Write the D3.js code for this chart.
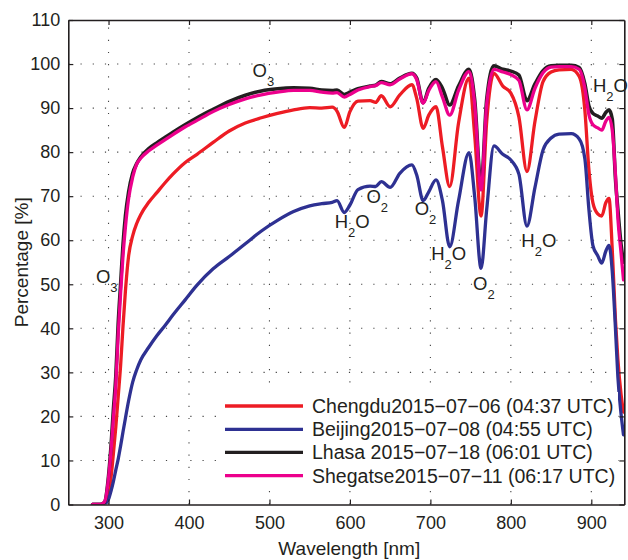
<!DOCTYPE html>
<html><head><meta charset="utf-8">
<script src="https://cdn.jsdelivr.net/npm/d3@7"></script>
<style>
body{margin:0;background:#fff;}
svg{display:block;font-family:"Liberation Sans",Arial,Helvetica,sans-serif;}
</style></head>
<body><svg id="chart" width="628" height="560"></svg>
<script>
const wavelengths = [280,290,295,300,303,306,309,312,315,318,321,325,330,335,340,350,360,370,380,395,410,430,450,470,490,510,530,550,565,578,584,593,600,610,625,632,639,650,662,677,683,691,698,707,715,724,735,748,755,763,770,779,790,800,810,820,830,840,850,860,875,885,892,897,902,908,913,918,922,926,930,933,937,940];

const chengdu = [0,0,0.3,2.5,6,11.5,17.5,24.5,31.5,40.5,
 48.5,56.5,61,63.8,65.8,68.6,70.8,73,75,77.6,
 79.5,82.2,84.8,86.6,87.8,88.8,89.6,90.1,90.0,90.2,
 89.3,85.6,89.2,91.6,91.7,91.3,92.8,90.3,93.0,95.3,
 92.2,85.4,88.4,90.3,81.2,72.2,86.6,96.8,84,65.5,
 87,97.9,95,93.4,88,75.6,87,96,98.2,98.7,
 98.8,97.2,89.5,76,68.5,66,65.5,68.5,69.5,58,
 42,33,25,21];

const beijing = [0,0,0.1,1.2,3,5.2,7.8,10.3,13.3,16.5,
 19.6,23.6,27.8,30.6,32.8,35.7,38.3,40.6,43,46.4,
 49.8,53.5,56.3,59.2,62.1,64.5,66.5,67.8,68.3,68.6,
 69,66.3,68,71.5,72.3,72.2,73.3,72.0,75.2,77.1,
 74.8,69.0,71,73.7,69,58.5,69,79.9,70,53.6,
 67,81.4,79.5,78.2,75,63.2,72,80.5,83.2,84.1,
 84.2,83,78.5,67,58.8,56.5,54.8,57.5,58.8,53,
 40,29,20.5,15.8];

const lhasa = [0,0,0.5,6.5,13,21.5,29,41,50,59,
 65.5,71,75.2,77.4,78.9,80.8,82.1,83.3,84.5,86.2,
 87.8,89.7,91.5,92.9,93.9,94.4,94.6,94.5,94.1,94.0,
 94.1,93.1,93.6,94.4,95.0,95.2,96.0,95.5,96.8,97.9,
 96.8,91.2,94.5,96.5,94.5,90.7,95,98.8,92,72.5,
 92,99.6,98.8,98.4,97.5,91.7,95.5,98.5,99.6,99.7,
 99.7,99.2,95.5,90.5,88.8,88.2,87.7,89,89.6,87.5,
 74,67,59,55];

const shegatse = [0,0,0.6,6,12,19.5,27,38.5,48,56.5,
 63,69.5,74.3,77.3,78.6,80.3,81.6,82.8,84,85.7,
 87.2,89.2,90.8,92.1,93.0,93.6,94.0,94.0,93.6,93.4,
 93.5,92.5,93.1,94.1,94.9,95.1,95.8,95.3,96.6,97.8,
 96.5,91.1,94,96.0,92.5,88.4,94,98.3,91,71.4,
 91,98.8,98.2,97.6,96.3,89.6,94.5,98,99.3,99.4,
 99.4,98.8,94.5,88.5,86.2,85.5,85,87,87.9,85,
 75,65,57,51];

const seriesNames = ["Chengdu2015\u221207\u221206 (04:37 UTC)","Beijing2015\u221207\u221208 (04:55 UTC)","Lhasa 2015\u221207\u221218 (06:01 UTC)","Shegatse2015\u221207\u221211 (06:17 UTC)"];
const seriesValues = [chengdu, beijing, lhasa, shegatse];
const seriesColors = ["#ED1C24","#2E3192","#231F20","#EC008C"];

const xTicks = [300,400,500,600,700,800,900];
const yTicks = [0,10,20,30,40,50,60,70,80,90,100,110];

// annotation labels: main text, subscript, trailing text, wavelength, value
const annMain = ["O","O","H","O","O","H","O","H","H"];
const annSub  = ["3","3","2","2","2","2","2","2","2"];
const annTail = ["","","O","","","O","","O","O"];
const annWl   = [479,284.3,581,620.5,680.5,701,753,813,902];
const annVal  = [97.1,50.4,62.7,68.4,65.7,55.5,48.7,58.5,93.7];

const svg = d3.select("#chart");
const L = 68.3, R = 624.3, T = 20, B = 504.5;
const x = d3.scaleLinear().domain([250, 941]).range([L, R]);
const y = d3.scaleLinear().domain([0, 110]).range([B, T]);
const ink = "#231F20";

// grid
const grid = svg.append("g").attr("stroke", "#444").attr("stroke-width", 1.1).attr("stroke-dasharray", "1.2,11");
xTicks.forEach(t => grid.append("line").attr("x1", x(t)).attr("x2", x(t)).attr("y1", B).attr("y2", T));
yTicks.filter(t => t > 0 && t < 110).forEach(t => grid.append("line").attr("x1", L).attr("x2", R).attr("y1", y(t)).attr("y2", y(t)));

// lines
svg.append("clipPath").attr("id", "clip").append("rect").attr("x", L).attr("y", T).attr("width", R - L).attr("height", B - T);
const line = d3.line().x((d, i) => x(wavelengths[i])).y(d => y(d)).curve(d3.curveMonotoneX);
const lines = svg.append("g").attr("clip-path", "url(#clip)");
seriesValues.forEach((vals, i) => {
  lines.append("path").datum(vals).attr("d", line).attr("fill", "none")
    .attr("stroke", seriesColors[i]).attr("stroke-width", i === 2 ? 3.6 : 3.3).attr("stroke-linejoin", "round").attr("stroke-linecap", "round");
});

// annotations
const ann = svg.append("g").attr("fill", ink).attr("font-size", 18.5);
annMain.forEach((m, i) => {
  const t = ann.append("text").attr("x", x(annWl[i])).attr("y", y(annVal[i]));
  t.append("tspan").text(m);
  t.append("tspan").attr("font-size", 13).attr("dy", 9).text(annSub[i]);
  if (annTail[i]) t.append("tspan").attr("dy", -9).text(annTail[i]);
});

// axes
const axFont = 18;
const gx = svg.append("g").attr("transform", `translate(0,${B})`)
  .call(d3.axisBottom(x).tickValues(xTicks).tickSizeInner(-5).tickSizeOuter(0).tickPadding(12));
const gxTop = svg.append("g").attr("transform", `translate(0,${T})`)
  .call(d3.axisTop(x).tickValues(xTicks).tickSizeInner(-5).tickSizeOuter(0).tickFormat(""));
const gy = svg.append("g").attr("transform", `translate(${L},0)`)
  .call(d3.axisLeft(y).tickValues(yTicks).tickSizeInner(-5).tickSizeOuter(0).tickPadding(8));
const gyR = svg.append("g").attr("transform", `translate(${R},0)`)
  .call(d3.axisRight(y).tickValues(yTicks).tickSizeInner(-5).tickSizeOuter(0).tickFormat(""));
[gx, gxTop, gy, gyR].forEach(g => {
  g.select(".domain").attr("stroke", ink).attr("stroke-width", 1.6);
  g.selectAll(".tick line").attr("stroke", ink).attr("stroke-width", 1.2);
  g.selectAll(".tick text").attr("fill", ink).attr("font-size", axFont).attr("font-family", "Liberation Sans, Arial, sans-serif");
});

// legend
const lg = svg.append("g");
lg.append("rect").attr("x", 216).attr("y", 392).attr("width", 402).attr("height", 98).attr("fill", "#fff");
const rowsY = [406, 429.3, 452.3, 475.7];
seriesNames.forEach((n, i) => {
  lg.append("line").attr("x1", 225).attr("x2", 303).attr("y1", rowsY[i]).attr("y2", rowsY[i])
    .attr("stroke", seriesColors[i]).attr("stroke-width", 3.3);
  lg.append("text").attr("x", 312).attr("y", rowsY[i]).attr("dy", "0.36em")
    .attr("font-size", 19.5).attr("fill", ink).text(n);
});

// axis labels
svg.append("text").attr("x", (L + R) / 2 + 3).attr("y", 555).attr("text-anchor", "middle")
  .attr("font-size", 19).attr("fill", ink).text("Wavelength [nm]");
svg.append("text").attr("transform", `translate(27.5,${(T + B) / 2}) rotate(-90)`).attr("text-anchor", "middle")
  .attr("font-size", 19).attr("fill", ink).text("Percentage [%]");
</script></body></html>
